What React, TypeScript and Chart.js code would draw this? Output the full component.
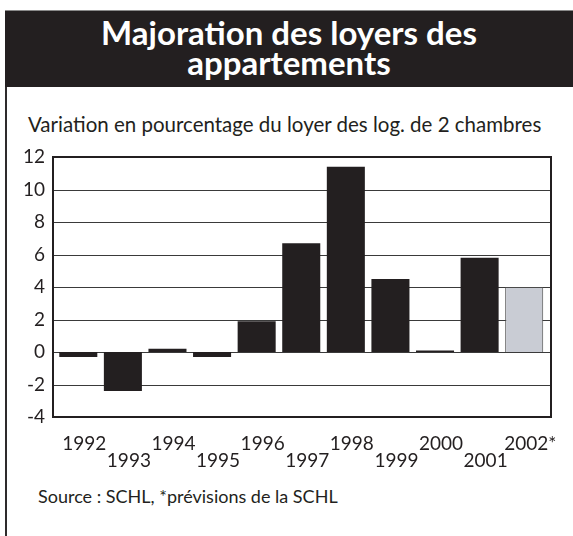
import React, { useEffect, useRef } from "react";
import { Chart, registerables } from "chart.js";

Chart.register(...registerables);

const TITLE_LINES = ["Majoration des loyers des", "appartements"];
const SUBTITLE = "Variation en pourcentage du loyer des log. de 2 chambres";
const SOURCE = "Source : SCHL, *prévisions de la SCHL";

const YEARS = ["1992", "1993", "1994", "1995", "1996", "1997", "1998", "1999", "2000", "2001", "2002*"];
const VALUES = [-0.3, -2.4, 0.2, -0.3, 1.9, 6.7, 11.4, 4.5, 0.1, 5.8, 4.0];
const IS_FORECAST = [false, false, false, false, false, false, false, false, false, false, true];
const Y_MIN = -4;
const Y_MAX = 12;
const Y_STEP = 2;

const DARK = "#231f20";
const FORECAST = "#c9ccd4";
const GRID = "#3a3a3a";
const FONT = "Lato, 'Open Sans', sans-serif";

// frame extends a little beyond the category range on both sides
const EXT_LEFT = 3;
const EXT_RIGHT = 4.5;

const gridAndFrame = {
  id: "gridAndFrame",
  beforeDatasetsDraw(chart: any) {
    const { ctx, chartArea, scales } = chart;
    const y = scales.y;
    ctx.save();
    ctx.strokeStyle = GRID;
    ctx.lineWidth = 1;
    y.ticks.forEach((t: any) => {
      const py = Math.round(y.getPixelForValue(t.value)) + 0.5;
      ctx.beginPath();
      ctx.moveTo(chartArea.left - EXT_LEFT, py);
      ctx.lineTo(chartArea.right + EXT_RIGHT, py);
      ctx.stroke();
    });
    ctx.restore();
  },
  afterDatasetsDraw(chart: any) {
    const { ctx, chartArea } = chart;
    ctx.save();
    ctx.strokeStyle = DARK;
    ctx.lineWidth = 2;
    const l = chartArea.left - EXT_LEFT;
    const r = chartArea.right + EXT_RIGHT;
    ctx.strokeRect(l, chartArea.top, r - l, chartArea.bottom - chartArea.top);
    ctx.restore();
  },
};

export default function App() {
  const canvasRef = useRef<HTMLCanvasElement | null>(null);

  useEffect(() => {
    if (!canvasRef.current) return;
    const labels = YEARS.map((y, i) => (i % 2 === 0 ? [y] : ["", y]));
    const chart = new Chart(canvasRef.current, {
      type: "bar",
      data: {
        labels,
        datasets: [
          {
            data: VALUES,
            backgroundColor: IS_FORECAST.map((f) => (f ? FORECAST : DARK)),
            borderColor: IS_FORECAST.map((f) => (f ? "#4a4a4a" : DARK)),
            borderWidth: IS_FORECAST.map((f) => (f ? 1 : 0)),
            barPercentage: 0.853,
            categoryPercentage: 1,
          },
        ],
      },
      options: {
        responsive: false,
        animation: false,
        layout: { padding: { left: 0, right: 26.5, top: 17, bottom: 0 } },
        plugins: {
          legend: { display: false },
          tooltip: { enabled: false },
          title: { display: false },
        },
        scales: {
          x: {
            grid: { display: false, drawTicks: false },
            border: { display: false },
            ticks: {
              color: DARK,
              font: { family: FONT, size: 19, lineHeight: 0.9 },
              padding: 18,
              labelOffset: 6,
              maxRotation: 0,
              autoSkip: false,
            },
            afterFit: (s: any) => {
              s.height = 63;
              s.paddingLeft = 0;
              s.paddingRight = 0;
            },
          },
          y: {
            min: Y_MIN,
            max: Y_MAX,
            grid: { display: false, drawTicks: false },
            border: { display: false },
            ticks: {
              stepSize: Y_STEP,
              color: DARK,
              font: { family: FONT, size: 19 },
              padding: 11,
            },
            afterFit: (s: any) => {
              s.width = 56;
              s.paddingTop = 0;
              s.paddingBottom = 0;
            },
          },
        },
      },
      plugins: [gridAndFrame],
    });
    return () => chart.destroy();
  }, []);

  return (
    <div
      style={{
        position: "absolute",
        left: 0,
        top: 0,
        width: 573,
        height: 536,
        background: "#fff",
        overflow: "hidden",
        fontFamily: FONT,
        color: DARK,
      }}
    >
      <div
        style={{
          position: "absolute",
          left: 5,
          top: 10,
          width: 2,
          height: 526,
          background: "#2e2b2c",
        }}
      />
      <div
        style={{
          position: "absolute",
          left: 5,
          top: 10,
          width: 568,
          height: 77,
          background: DARK,
          borderTop: "1px solid #8a8a8a",
          boxSizing: "border-box",
          color: "#fff",
          fontWeight: 700,
          fontSize: 33,
          lineHeight: "30px",
          textAlign: "center",
          paddingTop: 6,
        }}
      >
        {TITLE_LINES.map((t, i) => (
          <div key={i}>{t}</div>
        ))}
      </div>
      <div
        style={{
          position: "absolute",
          left: 28,
          top: 112,
          fontSize: 20.5,
          whiteSpace: "nowrap",
        }}
      >
        {SUBTITLE}
      </div>
      <div style={{ position: "absolute", left: 0, top: 140, width: 573, height: 340 }}>
        <canvas ref={canvasRef} width={573} height={340} style={{ display: "block" }} />
      </div>
      <div
        style={{
          position: "absolute",
          left: 38,
          top: 485,
          fontSize: 18,
          whiteSpace: "nowrap",
        }}
      >
        {SOURCE}
      </div>
    </div>
  );
}
